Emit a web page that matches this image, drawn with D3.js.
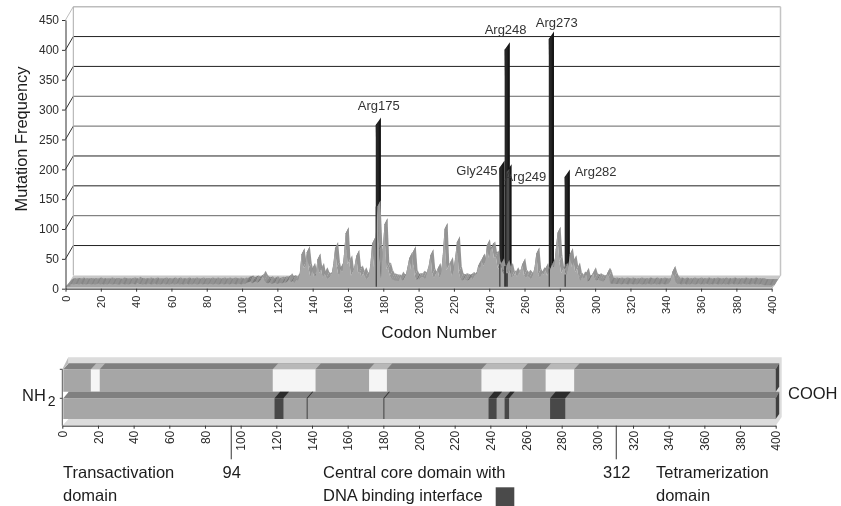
<!DOCTYPE html>
<html>
<head>
<meta charset="utf-8">
<script src="https://cdn.jsdelivr.net/npm/d3@7"></script>
<style>
  body { margin: 0; background: #fff; }
  svg { filter: blur(0.35px); }
  text { font-family: "Liberation Sans", Arial, sans-serif; fill: #1c1c1c; }
  .axis path, .axis line { stroke: #333; }
  .axis text { fill: #2c2c2c; }
</style>
</head>
<body>
<div id="chart"></div>
<script>
// mutation frequency per codon, 1-400
var areaValues = [
  1,2,1,2,2,1,3,1,2,1,2,2,1,2,1,2,3,1,2,1,
  2,1,3,2,1,2,2,1,1,3,2,1,2,1,2,3,2,1,4,2,
  2,1,2,1,3,2,1,2,3,1,2,1,2,3,1,2,1,2,3,1,
  2,3,1,2,1,2,3,1,2,1,3,2,1,2,3,1,2,2,1,3,
  2,1,3,2,1,2,3,1,2,3,1,2,3,2,1,3,2,1,3,2,
  4,5,6,3,5,6,4,6,9,14,8,4,3,5,2,3,5,2,3,4,
  3,5,4,6,10,5,7,4,9,8,20,52,30,30,55,28,14,27,14,16,
  43,20,27,12,20,12,10,14,18,35,62,30,14,28,22,50,87,35,40,16,
  22,32,49,20,23,14,20,12,10,14,35,70,30,80,132,60,12,60,102,28,
  27,16,10,9,8,8,7,13,8,10,16,30,45,26,55,16,9,10,10,14,
  12,10,22,32,50,18,12,18,27,12,20,50,94,25,30,37,14,25,45,72,
  22,10,8,10,9,8,9,12,10,15,17,32,28,43,32,40,67,45,60,63,
  45,48,30,26,35,22,18,32,20,27,14,14,20,14,18,24,35,16,12,16,
  12,10,18,30,53,18,12,20,18,27,16,20,28,35,30,60,88,40,20,25,
  27,18,30,52,30,40,22,28,12,8,13,10,19,6,8,12,20,10,8,10,
  8,7,6,10,19,14,3,2,3,2,2,3,1,2,3,2,1,3,2,1,
  2,1,3,2,1,2,1,3,2,1,2,3,1,2,1,3,2,1,2,3,
  8,22,12,5,2,3,1,2,3,1,2,1,3,2,1,2,3,1,2,1,
  3,2,1,2,1,3,2,1,2,1,3,1,2,1,2,3,1,2,1,2,
  1,3,2,1,2,1,2,3,1,2,1,2,1,0,0,0,0,0,0,0
];
var hotspotNames  = ['Arg175', 'Gly245', 'Arg248', 'Arg249', 'Arg273', 'Arg282'];
var hotspotCodons = [175, 245, 248, 249, 273, 282];
var hotspotValues = [269, 197, 395, 191, 413, 182];

var freqTicks  = [0, 50, 100, 150, 200, 250, 300, 350, 400, 450];
var codonTicks = d3.range(0, 401, 20);

// lower panel
var conservedBlocks = [[16, 21], [118, 142], [172, 182], [235, 258], [271, 287]];
var bindingBlocks   = [[119, 124], [137, 137.6], [180, 180.6], [239, 243.5], [248, 250.5], [273.5, 282]];
var domainEdges     = [94, 312];

var width = 841, height = 506;

var svg = d3.select('#chart').append('svg')
  .attr('width', width)
  .attr('height', height);

var x = d3.scaleLinear().domain([0, 400]).range([65.5, 771.7]);
var y = d3.scaleLinear().domain([0, 450]).range([288.7, 20]);

var wallDx = 7.8, wallDy = -13.3;

function poly(parent, pts, fill) {
  return parent.append('polygon')
    .attr('points', pts.map(function(p){ return p.join(','); }).join(' '))
    .attr('fill', fill);
}

// ---- upper chart: walls and floor
var top3d = svg.append('g');

poly(top3d, [[x(0), y(0)], [x(0) + wallDx, y(0) + wallDy], [x(400) + wallDx + 1, y(0) + wallDy], [x(400), y(0)]], '#c8c8c8');

freqTicks.forEach(function(d) {
  if (d === 0) return;
  var col = d === 450 ? '#bdbdbd' : ([100, 250, 300].indexOf(d) !== -1 ? '#666' : '#222');
  top3d.append('line')
    .attr('x1', x(0) + wallDx).attr('x2', x(400) + wallDx + 1)
    .attr('y1', y(d) + wallDy).attr('y2', y(d) + wallDy)
    .attr('stroke', col)
    .attr('stroke-width', d === 450 ? 1.5 : 1);
  top3d.append('line')
    .attr('x1', x(0)).attr('x2', x(0) + wallDx)
    .attr('y1', y(d)).attr('y2', y(d) + wallDy)
    .attr('stroke', d === 450 ? '#bdbdbd' : '#333');
});

top3d.append('line')
  .attr('x1', x(0) + wallDx).attr('x2', x(0) + wallDx)
  .attr('y1', y(450) + wallDy).attr('y2', y(0) + wallDy)
  .attr('stroke', '#aaa');
top3d.append('line')
  .attr('x1', x(400) + wallDx + 1).attr('x2', x(400) + wallDx + 1)
  .attr('y1', y(450) + wallDy).attr('y2', y(0) + wallDy)
  .attr('stroke', '#c4c4c4').attr('stroke-width', 1.5);
top3d.append('line')
  .attr('x1', x(400) + wallDx + 1).attr('x2', x(400))
  .attr('y1', y(0) + wallDy).attr('y2', y(0))
  .attr('stroke', '#bbb');

// ---- hotspots go behind the area series
var spikeDx = 1.3, spikeW = 3, spikeTopDx = 2.2, spikeTopDy = -7.5, planeDy = -3;
var spikes = svg.append('g');

hotspotCodons.forEach(function(c, i) {
  var x0 = x(c) + spikeDx, x1 = x0 + spikeW;
  var yt = y(hotspotValues[i]) + planeDy, yb = y(0) + planeDy;
  var front = c === 249 ? '#4a4a4a' : '#262626';
  poly(spikes, [[x0, yt], [x1 + spikeTopDx, yt + spikeTopDy], [x1 + spikeTopDx, yb + spikeTopDy], [x1, yb]], '#161616');
  poly(spikes, [[x0, yt], [x1, yt + spikeTopDy * 0.4], [x1, yb], [x0, yb]], front);
});

// ---- area series: shaded faces between the front and back planes
var areaG = svg.append('g');
var faceFrontDx = 3, faceBackDx = 6, faceFrontDy = -3.5, faceBackDy = -9.5;

// base of the series, runs the whole axis under the low values
poly(areaG, [[x(0), y(0) - 2], [x(0) + 6.5, y(0) + faceBackDy], [x(400) + 6.5, y(0) + faceBackDy], [x(400), y(0) - 2]], '#8f8f8f');

areaValues.forEach(function(v, i) {
  if (i === areaValues.length - 1) return;
  var v2 = areaValues[i + 1];
  var xa = x(i + 1), xb = x(i + 2);
  var fill = v2 > v ? '#767676' : '#949494';
  if (v2 < 5 && v < 5) fill = i % 3 === 0 ? '#868686' : '#929292';
  poly(areaG, [[xa + faceFrontDx, y(v) + faceFrontDy], [xb + faceFrontDx, y(v2) + faceFrontDy],
    [xb + faceBackDx, y(v2) + faceBackDy], [xa + faceBackDx, y(v) + faceBackDy]], fill);
});

var areaFront = d3.area()
  .x(function(d, i){ return Math.min(x(i + 1) + faceFrontDx, x(400)); })
  .y0(y(0) - 2)
  .y1(function(d){ return y(d) + faceFrontDy; });

areaG.append('path')
  .attr('d', areaFront(areaValues))
  .attr('fill', '#a6a6a6');

// dark edge of each hotspot showing through the area
hotspotCodons.forEach(function(c, i) {
  areaG.append('line')
    .attr('x1', x(c) + spikeDx + 0.5).attr('x2', x(c) + spikeDx + 0.5)
    .attr('y1', y(areaValues[c - 1]) + faceFrontDy)
    .attr('y2', y(0) - 2)
    .attr('stroke', c === 249 ? '#444' : '#3a3a3a')
    .attr('stroke-width', c === 248 || c === 249 ? 2 : 1.2);
});

// ---- upper axes
var xAxis = d3.axisBottom(x).tickValues(codonTicks).tickSize(3).tickSizeOuter(0);
var yAxis = d3.axisLeft(y).tickValues(freqTicks).tickSize(3.5).tickSizeOuter(0);

var gx = svg.append('g')
  .attr('class', 'axis')
  .attr('transform', 'translate(0,' + y(0) + ')')
  .call(xAxis);

gx.selectAll('text')
  .attr('font-size', 11)
  .attr('transform', 'rotate(-90)')
  .attr('x', -7).attr('y', 0).attr('dy', '0.35em')
  .style('text-anchor', 'end');

svg.append('g')
  .attr('class', 'axis')
  .attr('transform', 'translate(' + x(0) + ',0)')
  .call(yAxis)
  .selectAll('text')
  .attr('font-size', 12)
  .attr('x', -6.5);

// ---- hotspot labels
var labelNudge = {
  Arg175: [-18, -7.5], Gly245: [-43, 14], Arg248: [-20, -8],
  Arg249: [-2, 16.5], Arg273: [-13, -5], Arg282: [10, 6]
};
hotspotNames.forEach(function(name, i) {
  var c = hotspotCodons[i];
  svg.append('text')
    .attr('x', x(c) + spikeDx + labelNudge[name][0])
    .attr('y', y(hotspotValues[i]) + planeDy + spikeTopDy + labelNudge[name][1])
    .attr('font-size', 13)
    .style('fill', '#333')
    .text(name);
});

svg.append('text')
  .attr('transform', 'translate(27,139) rotate(-90)')
  .attr('text-anchor', 'middle')
  .attr('font-size', 16.4)
  .text('Mutation Frequency');

svg.append('text')
  .attr('x', 439).attr('y', 338)
  .attr('text-anchor', 'middle')
  .attr('font-size', 17)
  .text('Codon Number');

// ---- lower panel
var xd = d3.scaleLinear().domain([0, 400]).range([62.3, 775.7]);
var bar = svg.append('g');
var barSkew = 5.5;
var rows = [
  {topY: 363.3, frontY: 369.3, botY: 391.7, blocks: conservedBlocks, frontFill: '#f5f5f5', topFill: '#b8b8b8'},
  {topY: 391.7, frontY: 398.3, botY: 419, blocks: bindingBlocks, frontFill: '#484848', topFill: '#2c2c2c'}
];

poly(bar, [[xd(0), 425.7], [xd(0) + barSkew + 0.5, 357.3 + 62], [xd(0) + barSkew + 0.5, 357.3],
  [xd(400) + barSkew + 0.5, 357.3], [xd(400) + barSkew + 0.5, 417], [xd(400), 425.7]], '#dcdcdc');
poly(bar, [[xd(0), 369.3], [xd(0) + barSkew + 0.5, 357.3], [xd(0) + barSkew + 0.5, 363.3], [xd(0) + 1, 369.3]], '#bcbcbc');

rows.forEach(function(r) {
  var sk = barSkew;
  poly(bar, [[xd(0) + 1, r.frontY], [xd(0) + 1 + sk, r.topY], [xd(400) + sk - 2, r.topY], [xd(400), r.frontY]], '#808080');
  poly(bar, [[xd(0) + 1, r.frontY], [xd(400), r.frontY], [xd(400), r.botY], [xd(0) + 1, r.botY]], '#a6a6a6');
  poly(bar, [[xd(400), r.frontY], [xd(400) + 3.5, r.topY], [xd(400) + 3.5, r.botY - 5], [xd(400), r.botY]], '#404040');
  r.blocks.forEach(function(b) {
    var xa = xd(b[0]), xc = xd(b[1]);
    poly(bar, [[xa, r.frontY], [xa + sk, r.topY], [xc + sk, r.topY], [xc, r.frontY]], r.topFill);
    poly(bar, [[xa, r.frontY], [xc, r.frontY], [xc, r.botY], [xa, r.botY]], r.frontFill);
  });
});

var gd = svg.append('g')
  .attr('class', 'axis')
  .attr('transform', 'translate(0,425.7)')
  .call(d3.axisBottom(xd).tickValues(codonTicks).tickSize(3).tickSizeOuter(0));

gd.selectAll('text')
  .attr('font-size', 12)
  .attr('transform', 'rotate(-90)')
  .attr('x', -5).attr('y', 0).attr('dy', '0.35em')
  .style('text-anchor', 'end');

bar.append('line')
  .attr('x1', xd(0)).attr('x2', xd(0))
  .attr('y1', 369.3).attr('y2', 425.7)
  .attr('stroke', '#555');
[369.3, 398.3].forEach(function(t) {
  bar.append('line')
    .attr('x1', xd(0) - 2.5).attr('x2', xd(0))
    .attr('y1', t).attr('y2', t)
    .attr('stroke', '#444');
});

var edgeNudge = [1.3, -2.5];
domainEdges.forEach(function(c, i) {
  svg.append('line')
    .attr('x1', xd(c) + edgeNudge[i]).attr('x2', xd(c) + edgeNudge[i])
    .attr('y1', 425.7).attr('y2', 459.3)
    .attr('stroke', '#333');
  svg.append('text')
    .attr('x', xd(c) + edgeNudge[i] + 0.5).attr('y', 478)
    .attr('text-anchor', 'middle')
    .attr('font-size', 16.5)
    .text(c);
});

var captions = [
  ['Transactivation', 63, 478], ['domain', 63, 501],
  ['Central core domain with', 323, 478], ['DNA binding interface', 323, 501],
  ['Tetramerization', 656, 478], ['domain', 656, 501],
  ['COOH', 788, 399]
];
captions.forEach(function(t) {
  svg.append('text')
    .attr('x', t[1]).attr('y', t[2])
    .attr('font-size', 16.5)
    .text(t[0]);
});

svg.append('rect')
  .attr('x', 495.7).attr('y', 487.3)
  .attr('width', 18.6).attr('height', 18.7)
  .attr('fill', '#4a4a4a');

var nh = svg.append('text').attr('x', 22).attr('y', 401).attr('font-size', 16.5);
nh.append('tspan').text('NH');
nh.append('tspan').attr('dx', 2).attr('dy', 5).attr('font-size', 14).text('2');
</script>
</body>
</html>
